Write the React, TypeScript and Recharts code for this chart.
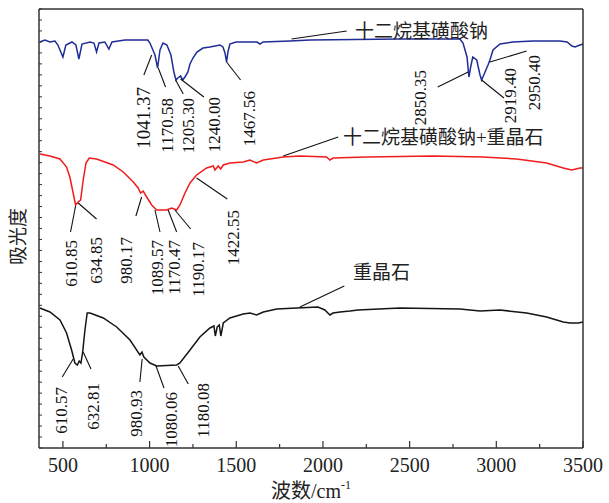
import React from "react";
import { LineChart, Line, XAxis, YAxis, ReferenceLine, ReferenceDot } from "recharts";

const SERIF = "'Liberation Serif', 'Noto Sans CJK SC', serif";

// 十二烷基磺酸钠 (blue)
const sdsWn = [367, 396, 425, 454, 471, 500, 517, 552, 575, 592, 610, 656, 679, 694, 708, 742, 765, 783, 858, 990, 1002, 1019, 1031, 1046, 1060, 1077, 1100, 1123, 1140, 1152, 1163, 1179, 1190, 1204, 1221, 1233, 1250, 1273, 1308, 1348, 1406, 1423, 1435, 1444, 1452, 1463, 1498, 1619, 1637, 1654, 1810, 1925, 2444, 2790, 2808, 2831, 2842, 2852, 2864, 2887, 2906, 2915, 2935, 2952, 2963, 2981, 3021, 3096, 3211, 3367, 3408, 3436, 3454, 3483, 3500];
const sdsAbs = [4.06, 4.08, 4.06, 4.07, 4.03, 3.91, 4.03, 4.06, 4.03, 3.89, 4.04, 4.06, 4.05, 3.96, 4.05, 4.06, 3.99, 4.06, 4.08, 4.08, 4.05, 3.98, 3.93, 3.8, 3.98, 4.05, 4.03, 3.93, 3.76, 3.68, 3.7, 3.72, 3.68, 3.71, 3.76, 3.84, 3.9, 3.96, 4.0, 4.01, 4.03, 4.01, 3.95, 3.86, 3.96, 4.04, 4.06, 4.06, 4.04, 4.06, 4.07, 4.08, 4.09, 4.09, 4.05, 3.91, 3.71, 3.81, 3.91, 3.88, 3.73, 3.68, 3.76, 3.83, 3.88, 3.98, 4.04, 4.06, 4.07, 4.07, 4.06, 4.02, 4.01, 4.03, 4.04];

// 十二烷基磺酸钠+重晶石 (red)
const mixWn = [367, 425, 483, 521, 540, 559, 573, 588, 602, 617, 633, 652, 694, 790, 848, 906, 934, 948, 963, 983, 1012, 1041, 1098, 1127, 1156, 1175, 1204, 1233, 1271, 1329, 1367, 1377, 1396, 1410, 1425, 1463, 1540, 1579, 1617, 1656, 1771, 1867, 2021, 2040, 2059, 2252, 2635, 2923, 3117, 3290, 3386, 3435, 3483, 3500];
const mixAbs = [2.94, 2.92, 2.89, 2.81, 2.71, 2.55, 2.43, 2.46, 2.48, 2.68, 2.85, 2.9, 2.89, 2.83, 2.76, 2.66, 2.6, 2.55, 2.57, 2.51, 2.43, 2.38, 2.38, 2.4, 2.38, 2.43, 2.55, 2.65, 2.73, 2.8, 2.82, 2.78, 2.82, 2.79, 2.83, 2.85, 2.86, 2.88, 2.85, 2.88, 2.91, 2.92, 2.91, 2.88, 2.9, 2.91, 2.92, 2.91, 2.89, 2.85, 2.8, 2.78, 2.8, 2.8];

// 重晶石 (black)
const bariteWn = [367, 425, 483, 521, 550, 569, 583, 594, 604, 614, 627, 640, 656, 733, 810, 887, 944, 956, 967, 1002, 1041, 1156, 1175, 1233, 1290, 1348, 1371, 1379, 1390, 1402, 1411, 1425, 1463, 1540, 1579, 1617, 1656, 1733, 1848, 1971, 2011, 2040, 2058, 2098, 2156, 2202, 2444, 2790, 2906, 3021, 3175, 3290, 3386, 3425, 3473, 3500];
const bariteAbs = [1.4, 1.36, 1.28, 1.15, 0.98, 0.85, 0.83, 0.87, 0.85, 0.96, 1.18, 1.35, 1.35, 1.3, 1.21, 1.08, 0.93, 0.96, 0.91, 0.85, 0.82, 0.83, 0.85, 0.98, 1.11, 1.2, 1.22, 1.12, 1.21, 1.23, 1.12, 1.25, 1.3, 1.34, 1.35, 1.33, 1.36, 1.39, 1.4, 1.41, 1.38, 1.33, 1.35, 1.36, 1.37, 1.38, 1.4, 1.39, 1.37, 1.38, 1.35, 1.31, 1.26, 1.25, 1.25, 1.26];

const xTicks = [500, 750, 1000, 1250, 1500, 1750, 2000, 2250, 2500, 2750, 3000, 3250, 3500];
const Y_MAX = 4.39;
const leftTicks = Array.from({ length: 41 }, (_, i) => +((i * Y_MAX) / 40).toFixed(4));
const rightTicks = Array.from({ length: 11 }, (_, i) => +((i * Y_MAX) / 10).toFixed(4));

// peak labels: text, where its top sits, and the leader line
type Note = { text: string; wn: number; v: number; from: [number, number]; to: [number, number]; big?: boolean };

const sdsNotes: Note[] = [
  { text: "1041.37", wn: 962, v: 3.61, from: [1012, 3.93], to: [967, 3.73], big: true },
  { text: "1170.58", wn: 1102, v: 3.5, from: [1050, 3.8], to: [1092, 3.61] },
  { text: "1205.30", wn: 1223, v: 3.5, from: [1150, 3.68], to: [1194, 3.54] },
  { text: "1240.00", wn: 1377, v: 3.51, from: [1179, 3.69], to: [1313, 3.51] },
  { text: "1467.56", wn: 1579, v: 3.57, from: [1444, 3.86], to: [1525, 3.68] },
  { text: "2850.35", wn: 2560, v: 3.78, from: [2838, 3.76], to: [2662, 3.61] },
  { text: "2919.40", wn: 3079, v: 3.8, from: [2915, 3.68], to: [3044, 3.5] },
  { text: "2950.40", wn: 3223, v: 3.93, from: [2963, 3.86], to: [3175, 3.97] },
];

const mixNotes: Note[] = [
  { text: "610.85", wn: 550, v: 2.08, from: [573, 2.42], to: [544, 2.16] },
  { text: "634.85", wn: 694, v: 2.11, from: [588, 2.45], to: [694, 2.29] },
  { text: "980.17", wn: 867, v: 2.11, from: [954, 2.51], to: [921, 2.32] },
  { text: "1089.57", wn: 1044, v: 2.08, from: [1031, 2.38], to: [1060, 2.16] },
  { text: "1170.47", wn: 1146, v: 2.08, from: [1107, 2.38], to: [1156, 2.16] },
  { text: "1190.17", wn: 1281, v: 2.06, from: [1146, 2.38], to: [1237, 2.19] },
  { text: "1422.55", wn: 1482, v: 2.38, from: [1271, 2.7], to: [1448, 2.49] },
];

const bariteNotes: Note[] = [
  { text: "610.57", wn: 493, v: 0.61, from: [559, 0.89], to: [496, 0.71] },
  { text: "632.81", wn: 679, v: 0.65, from: [617, 0.96], to: [662, 0.79] },
  { text: "980.93", wn: 925, v: 0.58, from: [957, 0.89], to: [944, 0.66] },
  { text: "1080.06", wn: 1127, v: 0.56, from: [1037, 0.82], to: [1083, 0.6] },
  { text: "1180.08", wn: 1309, v: 0.65, from: [1165, 0.82], to: [1223, 0.64] },
];

const titles: Note[] = [
  { text: "十二烷基磺酸钠", wn: 2185, v: 4.17, from: [1819, 4.09], to: [2137, 4.17] },
  { text: "十二烷基磺酸钠+重晶石", wn: 2115, v: 3.105, from: [1771, 2.92], to: [2088, 3.11] },
  { text: "重晶石", wn: 2173, v: 1.755, from: [1867, 1.41], to: [2123, 1.62] },
];

const toData = (wn: number[], abs: number[]) => wn.map((w, i) => ({ wn: w, v: abs[i] }));
const sdsData = toData(sdsWn, sdsAbs);
const mixData = toData(mixWn, mixAbs);
const bariteData = toData(bariteWn, bariteAbs);

const AXIS = "#333";

const BottomTick = ({ x, y, payload }: any) => {
  const major = payload.value % 500 === 0;
  return (
    <g>
      <line x1={x} x2={x} y1={y} y2={y - (major ? 7 : 4)} stroke={AXIS} strokeWidth={1.2} />
      {major && (
        <text x={x} y={y + 24} textAnchor="middle" fontSize={20} fontFamily={SERIF} fill="#222">
          {payload.value}
        </text>
      )}
    </g>
  );
};

const TopTick = ({ x, y, payload }: any) => {
  const major = payload.value % 500 === 0;
  return <line x1={x} x2={x} y1={y} y2={y + (major ? 7 : 4)} stroke={AXIS} strokeWidth={1.2} />;
};

const LeftTick = ({ x, y }: any) => <line x1={x} x2={x + 3} y1={y} y2={y} stroke={AXIS} strokeWidth={1} />;
const RightTick = ({ x, y }: any) => <line x1={x} x2={x - 4} y1={y} y2={y} stroke={AXIS} strokeWidth={1} />;

const vText = (text: string, size: number) => (p: any) => (
  <text
    x={p.cx}
    y={p.cy}
    transform={`rotate(-90 ${p.cx} ${p.cy})`}
    textAnchor="end"
    dominantBaseline="central"
    fontSize={size}
    fontFamily={SERIF}
    fill="#111"
  >
    {text}
  </text>
);

const hText = (text: string) => (p: any) => (
  <text x={p.cx} y={p.cy} dominantBaseline="central" fontSize={19} fontFamily={SERIF} fill="#222">
    {text}
  </text>
);

const renderNotes = (notes: Note[], horizontal = false) =>
  notes.flatMap((n, i) => [
    <ReferenceLine
      key={`l-${n.text}-${i}`}
      xAxisId="b"
      yAxisId="l"
      segment={[
        { x: n.from[0], y: n.from[1] },
        { x: n.to[0], y: n.to[1] },
      ]}
      stroke="#111"
      strokeWidth={1.1}
    />,
    <ReferenceDot
      key={`t-${n.text}-${i}`}
      xAxisId="b"
      yAxisId="l"
      x={n.wn}
      y={n.v}
      shape={horizontal ? hText(n.text) : vText(n.text, n.big ? 19 : 17)}
    />,
  ]);

const XTitle = (p: any) => {
  const vb = p.viewBox;
  return (
    <text x={vb.x + vb.width / 2} y={vb.y + 50} textAnchor="middle" fontSize={20} fontFamily={SERIF} fill="#222">
      波数/cm
      <tspan fontSize={12} dy={-9}>
        -1
      </tspan>
    </text>
  );
};

const YTitle = (p: any) => {
  const vb = p.viewBox;
  const cx = vb.x + vb.width - 21;
  const cy = vb.y + vb.height / 2 + 8;
  return (
    <text
      x={cx}
      y={cy}
      transform={`rotate(-90 ${cx} ${cy})`}
      textAnchor="middle"
      dominantBaseline="central"
      fontSize={19}
      fontFamily={SERIF}
      fill="#222"
    >
      吸光度
    </text>
  );
};

export default function App() {
  return (
    <div style={{ position: "absolute", left: 0, top: 0, width: 609, height: 503, background: "#fff" }}>
      <LineChart width={609} height={503} margin={{ top: 8, right: 25, bottom: 25, left: 9 }}>
        <XAxis
          xAxisId="b"
          dataKey="wn"
          type="number"
          domain={[362, 3500]}
          ticks={xTicks}
          interval={0}
          height={30}
          tickSize={0}
          tickMargin={0}
          tick={BottomTick}
          axisLine={{ stroke: AXIS, strokeWidth: 1.5 }}
          label={{ content: XTitle }}
        />
        <XAxis
          xAxisId="t"
          orientation="top"
          dataKey="wn"
          type="number"
          domain={[362, 3500]}
          ticks={xTicks}
          interval={0}
          height={1}
          tickSize={0}
          tickMargin={0}
          tick={TopTick}
          axisLine={{ stroke: AXIS, strokeWidth: 1.5 }}
        />
        <YAxis
          yAxisId="l"
          type="number"
          domain={[0, Y_MAX]}
          ticks={leftTicks}
          interval={0}
          width={30}
          tickSize={0}
          tickMargin={0}
          tick={LeftTick}
          axisLine={{ stroke: AXIS, strokeWidth: 1.5 }}
          label={{ content: YTitle }}
        />
        <YAxis
          yAxisId="r"
          orientation="right"
          type="number"
          domain={[0, Y_MAX]}
          ticks={rightTicks}
          interval={0}
          width={1}
          tickSize={0}
          tickMargin={0}
          tick={RightTick}
          axisLine={{ stroke: AXIS, strokeWidth: 1.5 }}
        />

        <Line xAxisId="b" yAxisId="l" data={sdsData} dataKey="v" type="linear" stroke="#1f2d96" strokeWidth={1.5} dot={false} isAnimationActive={false} />
        <Line xAxisId="b" yAxisId="l" data={mixData} dataKey="v" type="linear" stroke="#f01c1c" strokeWidth={1.5} dot={false} isAnimationActive={false} />
        <Line xAxisId="b" yAxisId="l" data={bariteData} dataKey="v" type="linear" stroke="#151515" strokeWidth={1.5} dot={false} isAnimationActive={false} />

        {renderNotes(sdsNotes)}
        {renderNotes(mixNotes)}
        {renderNotes(bariteNotes)}
        {renderNotes(titles, true)}
      </LineChart>
    </div>
  );
}
